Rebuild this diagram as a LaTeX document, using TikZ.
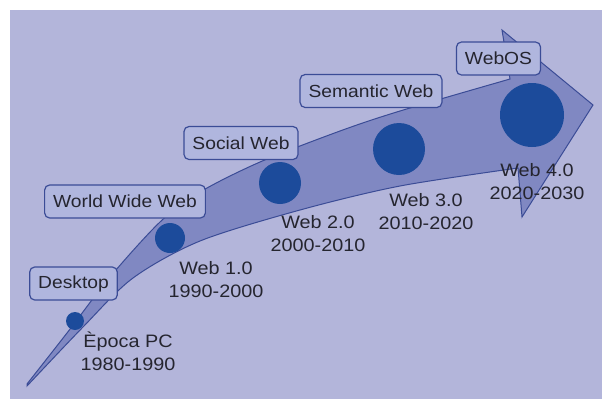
\documentclass[tikz,border=0pt]{standalone}
\usepackage{fontspec}
\usepackage{tikz}
\usetikzlibrary{positioning}
\newfontfamily\lblfont[FakeStretch=1.1]{Liberation Sans}
\definecolor{lavender}{HTML}{B3B5DA}
\definecolor{arrowfill}{HTML}{8088C2}
\definecolor{edge}{HTML}{3B4C96}
\definecolor{dotblue}{HTML}{1C4B9B}
\definecolor{boxfill}{HTML}{B0B6DE}
\definecolor{textgrey}{HTML}{25252F}
\tikzset{
  era/.style={draw=edge,fill=boxfill,rounded corners=5pt,line width=1.2pt,inner xsep=8.5pt,
    minimum height=33pt,text=textgrey,font={\lblfont\fontsize{17.5}{21}\selectfont}},
  dot/.style={circle,fill=dotblue,inner sep=0},
  years/.style={align=center,text=textgrey,font={\lblfont\fontsize{18}{23}\selectfont}}}
\begin{document}
\begin{tikzpicture}[x=1pt,y=-1pt]
  \useasboundingbox (0,0) rectangle (602,399);
  \fill[lavender] (10,10) rectangle (602,399);
  % the curved arrow
  \draw[edge,fill=arrowfill,line width=1pt,line join=miter]
    plot[smooth] coordinates {(27,384) (67,333) (110,277) (160,222) (200,192) (260,162) (340,131) (400,111) (510,79)}
    -- (502,30) -- (593,105) -- (522,217) -- (518,168)
    -- plot[smooth] coordinates {(518,168) (400,186) (300,210) (200,241) (133,278) (83,327) (27,386)}
    -- cycle;
  % stages along it
  \node[dot,minimum size=18pt] (pc) at (75,321) {};
  \node[dot,minimum size=30pt] (w1) at (170,238) {};
  \node[dot,minimum size=42pt] (w2) at (280,183) {};
  \node[dot,minimum size=52pt] (w3) at (399,149) {};
  \node[dot,minimum size=64pt] (w4) at (532,115) {};
  \node[years] (pcyr) at (128,351) {Època PC\\1980-1990};
  \node[years] (w1yr) at (216,280) {Web 1.0\\1990-2000};
  \node[years] (w2yr) at (318,234) {Web 2.0\\2000-2010};
  \node[years] (w3yr) at (426,211.5) {Web 3.0\\2010-2020};
  \node[years] (w4yr) at (537,181.5) {Web 4.0\\2020-2030};
  % the names of the eras
  \node[era] (desk) at (73.5,283.5) {Desktop};
  \node[era] (www) at (125,201.5) {World Wide Web};
  \node[era] (social) at (241,143) {Social Web};
  \node[era] (sem) at (371,91) {Semantic Web};
  \node[era] (webos) at (498.5,58.5) {WebOS};
\end{tikzpicture}
\end{document}
